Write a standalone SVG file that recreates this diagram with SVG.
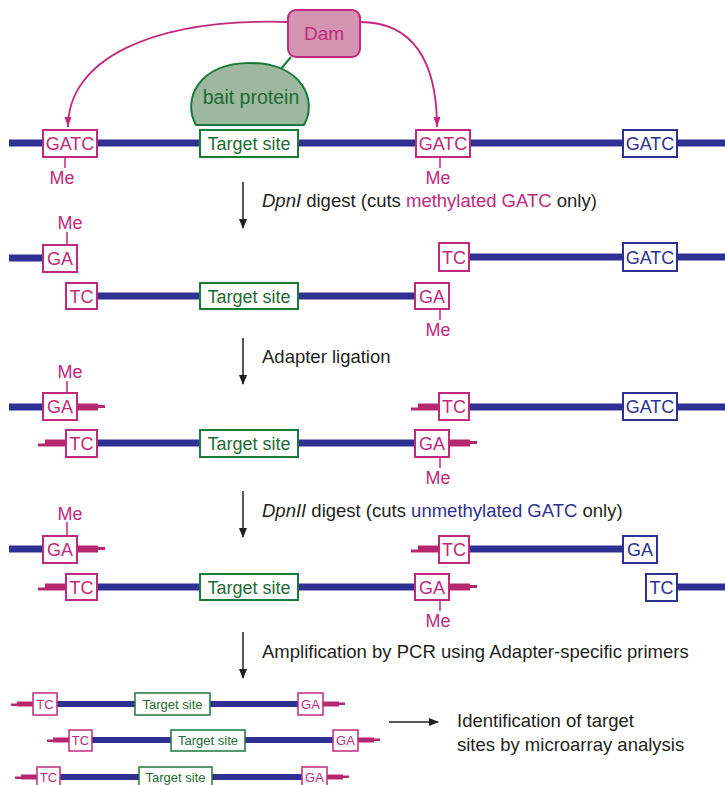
<svg xmlns="http://www.w3.org/2000/svg" width="725" height="785" viewBox="0 0 725 785">
<style>
.dna{stroke:#2e3192;stroke-width:7;fill:none}
.pbox{fill:#fff;stroke:#c2297c;stroke-width:2}
.bbox{fill:#fff;stroke:#2e3192;stroke-width:2}
.gbox{fill:#fff;stroke:#1a7a3a;stroke-width:2}
.pt{fill:#c2297c;font-family:"Liberation Sans",Arial,sans-serif;font-size:18px;text-anchor:middle}
.bt{fill:#2e3192;font-family:"Liberation Sans",Arial,sans-serif;font-size:18px;text-anchor:middle}
.gt{fill:#1e6b33;font-family:"Liberation Sans",Arial,sans-serif;font-size:18px;text-anchor:middle}
.spt{fill:#c2297c;font-family:"Liberation Sans",Arial,sans-serif;font-size:13px;text-anchor:middle}
.sgt{fill:#1e6b33;font-family:"Liberation Sans",Arial,sans-serif;font-size:13px;text-anchor:middle}
.lbl{fill:#231f20;font-family:"Liberation Sans",Arial,sans-serif;font-size:18.5px}
.me{stroke:#c2297c;stroke-width:1.5}
.ad{fill:#b5286f}
.arr{stroke:#231f20;stroke-width:1.5;fill:none}
.parr{stroke:#c2297c;stroke-width:1.8;fill:none}
</style>
<defs>
<marker id="ah" markerWidth="10" markerHeight="12" refX="9" refY="5" orient="auto" markerUnits="userSpaceOnUse" viewBox="0 0 10 10"><path d="M0,1 L10,5 L0,9 z" fill="#231f20"/></marker>
<marker id="ph" markerWidth="12" markerHeight="10" refX="10" refY="5" orient="auto" markerUnits="userSpaceOnUse" viewBox="0 0 10 10"><path d="M0,1.5 L10,5 L0,8.5 z" fill="#c2297c"/></marker>
<path id="adR" d="M0,-3.5 h21 v1.5 h7 v3 h-7 v2.5 h-21 z"/>
<path id="adL" d="M0,-3.5 h-21 v4 h-7 v3 h7 v0 h21 z"/>
<path id="sadR" d="M0,-2.5 h16 v1 h6 v2.5 h-6 v1.5 h-16 z"/>
<path id="sadL" d="M0,-2.5 h-16 v2 h-6 v2.5 h6 v0.5 h16 z"/>
</defs>

<!-- DNA lines -->
<g id="dna-lines">
<line class="dna" x1="9" y1="143" x2="725" y2="143"/>
<line class="dna" x1="9" y1="258" x2="43" y2="258"/>
<line class="dna" x1="97" y1="296" x2="415" y2="296"/>
<line class="dna" x1="469" y1="257" x2="725" y2="257"/>
<line class="dna" x1="9" y1="407" x2="43" y2="407"/>
<line class="dna" x1="97" y1="443" x2="415" y2="443"/>
<line class="dna" x1="469" y1="407" x2="725" y2="407"/>
<line class="dna" x1="9" y1="549" x2="43" y2="549"/>
<line class="dna" x1="97" y1="587" x2="415" y2="587"/>
<line class="dna" x1="469" y1="549" x2="623" y2="549"/>
<line class="dna" x1="677" y1="587" x2="725" y2="587"/>
<line class="dna" x1="57" y1="704" x2="298" y2="704" style="stroke-width:6"/>
<line class="dna" x1="92" y1="740" x2="333" y2="740" style="stroke-width:6"/>
<line class="dna" x1="60" y1="777" x2="302" y2="777" style="stroke-width:6"/>
</g>

<!-- connectors -->
<g id="connectors">
<path class="parr" d="M288,22 C150,18 68,60 68,127" marker-end="url(#ph)"/>
<path class="parr" d="M360,22 C412,22 437,60 437,127" marker-end="url(#ph)"/>
<line x1="291" y1="57" x2="280" y2="70" stroke="#1a7a3a" stroke-width="2"/>
<line class="arr" x1="243" y1="182" x2="243" y2="228" marker-end="url(#ah)"/>
<line class="arr" x1="243" y1="338" x2="243" y2="384" marker-end="url(#ah)"/>
<line class="arr" x1="243" y1="491" x2="243" y2="537" marker-end="url(#ah)"/>
<line class="arr" x1="243" y1="632" x2="243" y2="678" marker-end="url(#ah)"/>
<line class="arr" x1="389" y1="722" x2="438" y2="722" marker-end="url(#ah)"/>
</g>

<!-- Dam and bait -->
<g id="dam">
<rect x="288" y="10" width="72" height="47" rx="8" fill="#d393b1" stroke="#c2297c" stroke-width="2"/>
<text class="pt" x="324" y="40" style="font-size:19px">Dam</text>
</g>
<g id="bait">
<path d="M196,125 C182,100 198,63 250,63 C302,63 318,100 304,125 Z" fill="#9db89e" stroke="#1a7a3a" stroke-width="2"/>
<text class="gt" x="251" y="104" style="font-size:19.5px">bait protein</text>
</g>

<!-- Row 1 -->
<g id="r1-gatc1"><rect class="pbox" x="43" y="130" width="54" height="27"/><text class="pt" x="70" y="150">GATC</text><line class="me" x1="65" y1="157" x2="65" y2="168"/><text class="pt" x="62" y="184">Me</text></g>
<g id="r1-target"><rect class="gbox" x="200" y="130" width="98" height="27"/><text class="gt" x="249" y="150">Target site</text></g>
<g id="r1-gatc2"><rect class="pbox" x="416" y="130" width="54" height="27"/><text class="pt" x="443" y="150">GATC</text><line class="me" x1="440" y1="157" x2="440" y2="168"/><text class="pt" x="438" y="184">Me</text></g>
<g id="r1-gatc3"><rect class="bbox" x="623" y="130" width="54" height="27"/><text class="bt" x="650" y="150">GATC</text></g>
<text class="lbl" x="262" y="207"><tspan font-style="italic">DpnI</tspan> digest (cuts <tspan fill="#c2297c">methylated GATC</tspan> only)</text>

<!-- Row 2 -->
<g id="r2-ga1"><rect class="pbox" x="43" y="245" width="34" height="27"/><text class="pt" x="60" y="265">GA</text><line class="me" x1="67" y1="232" x2="67" y2="245"/><text class="pt" x="70" y="229">Me</text></g>
<g id="r2-tc1"><rect class="pbox" x="66" y="283" width="31" height="26"/><text class="pt" x="81.5" y="302.5">TC</text></g>
<g id="r2-target"><rect class="gbox" x="200" y="283" width="98" height="26"/><text class="gt" x="249" y="302.5">Target site</text></g>
<g id="r2-ga2"><rect class="pbox" x="415" y="283" width="34" height="26"/><text class="pt" x="432" y="302.5">GA</text><line class="me" x1="440" y1="309" x2="440" y2="320"/><text class="pt" x="438" y="336">Me</text></g>
<g id="r2-tc2"><rect class="pbox" x="439" y="243" width="30" height="28"/><text class="pt" x="454" y="263.5">TC</text></g>
<g id="r2-gatc"><rect class="bbox" x="623" y="243" width="54" height="28"/><text class="bt" x="650" y="263.5">GATC</text></g>
<text class="lbl" x="262" y="363">Adapter ligation</text>

<!-- Row 3 -->
<g id="r3-ga1"><use href="#adR" class="ad" x="77" y="407"/><rect class="pbox" x="43" y="393" width="34" height="27"/><text class="pt" x="60" y="413">GA</text><line class="me" x1="67" y1="381" x2="67" y2="393"/><text class="pt" x="70" y="378">Me</text></g>
<g id="r3-tc1"><use href="#adL" class="ad" x="66" y="443"/><rect class="pbox" x="66" y="430" width="31" height="27"/><text class="pt" x="81.5" y="450">TC</text></g>
<g id="r3-target"><rect class="gbox" x="200" y="430" width="98" height="27"/><text class="gt" x="249" y="450">Target site</text></g>
<g id="r3-ga2"><use href="#adR" class="ad" x="449" y="443"/><rect class="pbox" x="415" y="430" width="34" height="27"/><text class="pt" x="432" y="450">GA</text><line class="me" x1="440" y1="457" x2="440" y2="468"/><text class="pt" x="438" y="484">Me</text></g>
<g id="r3-tc2"><use href="#adL" class="ad" x="439" y="407"/><rect class="pbox" x="439" y="393" width="30" height="27"/><text class="pt" x="454" y="413">TC</text></g>
<g id="r3-gatc"><rect class="bbox" x="623" y="393" width="54" height="27"/><text class="bt" x="650" y="413">GATC</text></g>
<text class="lbl" x="262" y="517"><tspan font-style="italic">DpnII</tspan> digest (cuts <tspan fill="#2e3192">unmethylated GATC</tspan> only)</text>

<!-- Row 4 -->
<g id="r4-ga1"><use href="#adR" class="ad" x="77" y="549"/><rect class="pbox" x="43" y="536" width="34" height="27"/><text class="pt" x="60" y="556">GA</text><line class="me" x1="67" y1="522" x2="67" y2="536"/><text class="pt" x="70" y="520">Me</text></g>
<g id="r4-tc1"><use href="#adL" class="ad" x="66" y="587"/><rect class="pbox" x="66" y="574" width="31" height="26"/><text class="pt" x="81.5" y="593.5">TC</text></g>
<g id="r4-target"><rect class="gbox" x="200" y="574" width="98" height="26"/><text class="gt" x="249" y="593.5">Target site</text></g>
<g id="r4-ga2"><use href="#adR" class="ad" x="449" y="587"/><rect class="pbox" x="415" y="574" width="34" height="26"/><text class="pt" x="432" y="593.5">GA</text><line class="me" x1="440" y1="600" x2="440" y2="611"/><text class="pt" x="438" y="627">Me</text></g>
<g id="r4-tc2"><use href="#adL" class="ad" x="439" y="549"/><rect class="pbox" x="439" y="536" width="30" height="27"/><text class="pt" x="454" y="556">TC</text></g>
<g id="r4-ga3"><rect class="bbox" x="623" y="536" width="34" height="27"/><text class="bt" x="640" y="556">GA</text></g>
<g id="r4-tc3"><rect class="bbox" x="646" y="574" width="31" height="27"/><text class="bt" x="661.5" y="594">TC</text></g>
<text class="lbl" x="262" y="658">Amplification by PCR using Adapter-specific primers</text>

<!-- Row 5 fragments -->
<g id="f1">
<use href="#sadL" class="ad" x="33" y="704"/><rect class="pbox" x="33" y="693" width="24" height="22" style="stroke-width:1.5"/><text class="spt" x="45" y="708.5">TC</text>
<rect class="gbox" x="135" y="693" width="75" height="22" style="stroke-width:1.5"/><text class="sgt" x="172.5" y="708.5">Target site</text>
<use href="#sadR" class="ad" x="323" y="704"/><rect class="pbox" x="298" y="693" width="25" height="22" style="stroke-width:1.5"/><text class="spt" x="310.5" y="708.5">GA</text>
</g>
<g id="f2">
<use href="#sadL" class="ad" x="69" y="740"/><rect class="pbox" x="69" y="730" width="23" height="21" style="stroke-width:1.5"/><text class="spt" x="80.5" y="745">TC</text>
<rect class="gbox" x="171" y="730" width="74" height="21" style="stroke-width:1.5"/><text class="sgt" x="208" y="745">Target site</text>
<use href="#sadR" class="ad" x="358" y="740"/><rect class="pbox" x="333" y="730" width="25" height="21" style="stroke-width:1.5"/><text class="spt" x="345.5" y="745">GA</text>
</g>
<g id="f3">
<use href="#sadL" class="ad" x="37" y="777"/><rect class="pbox" x="37" y="767" width="23" height="21" style="stroke-width:1.5"/><text class="spt" x="48.5" y="782">TC</text>
<rect class="gbox" x="139" y="767" width="73" height="21" style="stroke-width:1.5"/><text class="sgt" x="175.5" y="782">Target site</text>
<use href="#sadR" class="ad" x="327" y="777"/><rect class="pbox" x="302" y="767" width="25" height="21" style="stroke-width:1.5"/><text class="spt" x="314.5" y="782">GA</text>
</g>
<text class="lbl" x="457" y="727">Identification of target</text>
<text class="lbl" x="457" y="751">sites by microarray analysis</text>
</svg>
